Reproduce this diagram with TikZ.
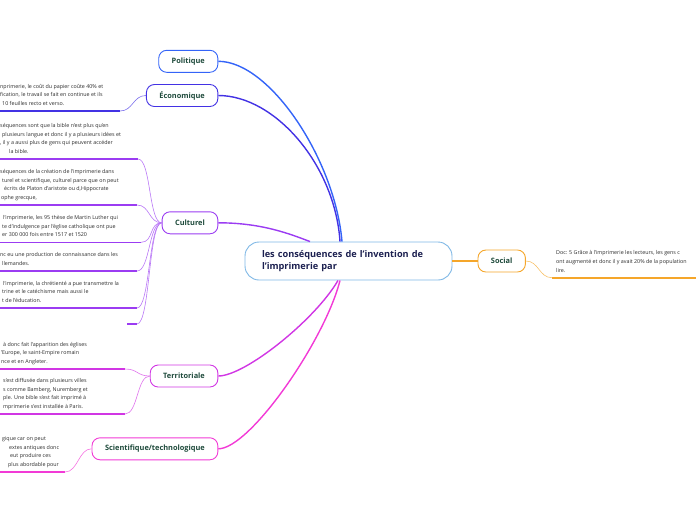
\documentclass[tikz,border=0pt]{standalone}
\usepackage{fontspec}
\setmainfont{Open Sans}

\definecolor{politc}{HTML}{3464F8}
\definecolor{ecoc}{HTML}{4332E4}
\definecolor{cultc}{HTML}{9B3CF2}
\definecolor{terrc}{HTML}{D136E4}
\definecolor{scic}{HTML}{F23AD6}
\definecolor{socc}{HTML}{F5A62A}
\definecolor{rootc}{HTML}{7FB8E6}
\definecolor{topictext}{HTML}{1F4B3C}
\definecolor{roottext}{HTML}{1C2050}
\definecolor{leaftext}{HTML}{2B2B2B}

\newcommand\leaffont{\fontsize{5.35}{8.67}\selectfont}
\newcommand\topicfont{\fontsize{7.4}{9}\selectfont\bfseries}
\newcommand\rootfont{\fontsize{9.2}{12.3}\selectfont\bfseries}

\begin{document}
\begin{tikzpicture}[x=1pt, y=-1pt,
  topic/.style = {draw, fill=white, rounded corners=8pt, line width=0.9pt,
    font=\topicfont, text=topictext, minimum height=22pt, inner xsep=13pt},
  leaf/.style = {font=\leaffont, text=leaftext, align=left,
    inner sep=0pt, anchor=base west},
  uline/.style = {line width=1.6pt},
  twig/.style = {line width=0.6pt},
  branch/.style = {line width=1.4pt}]
  \useasboundingbox (0,0) rectangle (696,520);
  \clip (0,0) rectangle (696,520);

  % root and main topics
  \node[draw=rootc, fill=white, line width=0.9pt, rounded corners=14pt,
    minimum width=207pt, minimum height=38pt, text width=173pt,
    inner xsep=17pt, align=left, font=\rootfont, text=roottext]
    (root) at (348.5,261) {les conséquences de l'invention de\\l'imprimerie par};
  \node[topic, draw=politc, anchor=east] (pol) at (218.3,61.3) {Politique};
  \node[topic, draw=ecoc, anchor=east] (eco) at (218.3,95.5) {Économique};
  \node[topic, draw=cultc, anchor=east] (cult) at (218.3,222.8) {Culturel};
  \node[topic, draw=terrc, anchor=east] (terr) at (218.3,376) {Territoriale};
  \node[topic, draw=scic, anchor=east] (sci) at (218.3,448.8) {Scientifique/technologique};
  \node[topic, draw=socc, anchor=west] (soc) at (477.5,261) {Social};

  % branches
  \draw[branch, politc] (pol.east) .. controls (270,61.3) and (335,160) .. ([xshift=-6.5]root.north);
  \draw[branch, ecoc] (eco.east) .. controls (275,95.5) and (335,165) .. ([xshift=-8.5]root.north);
  \draw[branch, cultc] (cult.east) .. controls (262,222.8) and (290,234) .. ([xshift=-38.5]root.north);
  \draw[branch, terrc] (terr.east) .. controls (245,376) and (315,320) .. ([xshift=-10.5]root.south);
  \draw[branch, scic] (sci.east) .. controls (250,448.8) and (325,340) .. ([xshift=-8.5]root.south);
  \draw[branch, socc] (root.east) -- (soc.west);

  % Economique
  \node[leaf] (eco1) at (0,105.4) {nprimerie, le coût du papier coûte 40\% et\\fication, le travail se fait en continue et ils\\\hspace*{2pt}10 feuilles recto et verso.};
  \coordinate (eco1e) at (120,111);
  \draw[uline, ecoc] (-3,111) -- (eco1e);
  \draw[twig, ecoc!70] (eco1e) .. controls +(13,0) and +(-13,0) .. (eco.west);

  % Culturel
  \node[leaf] (cul1) at (0,153.4) {séquences sont que la bible n'est plus qu'en\\\hspace*{2pt}plusieurs langue et donc il y a plusieurs idées et\\, il y a aussi plus de gens qui peuvent accéder\\\hspace*{9pt}la bible.};
  \node[leaf] (cul2) at (0,199.4) {séquences de la création de l'imprimerie dans\\\hspace*{2pt}turel et scientifique, culturel parce que on peut\\\hspace*{4pt}écrits de Platon d'aristote ou d,Hippocrate\\\hspace*{1pt}ophe grecque,};
  \node[leaf] (cul3) at (0,236.7) {\hspace*{3pt}l'imprimerie, les 95 thèse de Martin Luther qui\\\hspace*{2pt}te d'indulgence par l'église catholique ont pue\\\hspace*{2pt}er 300 000 fois entre 1517 et 1520};
  \node[leaf] (cul4) at (0,265.4) {nc eu une production de connaissance dans les\\\hspace*{2pt}llemandes.};
  \node[leaf] (cul5) at (0,302.4) {\hspace*{3pt}l'imprimerie, la chrétienté a pue transmettre la\\\hspace*{2pt}trine et le catéchisme mais aussi le\\\hspace*{2pt}t de l'éducation.};
  \coordinate (cul1e) at (138,159);
  \coordinate (cul2e) at (137,205);
  \coordinate (cul3e) at (141,242.3);
  \coordinate (cul4e) at (137,271);
  \coordinate (cul5e) at (137,308);
  \coordinate (cul6e) at (137,324);
  \foreach \e in {cul1e,cul2e,cul3e,cul4e,cul5e}
    \draw[uline, cultc] (\e) -- (\e -| -3,0);
  \draw[uline, cultc] (cul6e) -- +(-10,0);
  \foreach \e in {cul1e,cul2e,cul3e,cul4e,cul5e,cul6e}
    \draw[twig, cultc!70] (\e) .. controls +(13,0) and +(-13,0) .. (cult.west);

  % Territoriale
  \node[leaf] (ter1) at (0,363.4) {\hspace*{3pt}à donc fait l'apparition des églises\\\hspace*{1pt}'Europe, le saint-Empire romain\\\hspace*{1pt}nce et en Angleter.};
  \node[leaf] (ter2) at (0,408.4) {\hspace*{3pt}s'est diffusée dans plusieurs villes\\\hspace*{3pt}s comme Bamberg, Nuremberg et\\\hspace*{3pt}ple. Une bible s'est fait imprimé à\\\hspace*{3pt}mprimerie s'est installée à Paris.};
  \coordinate (ter1e) at (125,369);
  \coordinate (ter2e) at (125,414);
  \foreach \e in {ter1e,ter2e}
    \draw[uline, terrc] (\e) -- (\e -| -3,0);
  \foreach \e in {ter1e,ter2e}
    \draw[twig, terrc!70] (\e) .. controls +(13,0) and +(-13,0) .. (terr.west);

  % Scientifique/technologique
  \node[leaf] (sci1) at (0,466.4) {\hspace*{2pt}gique car on peut\\\hspace*{9pt}extes antiques donc\\\hspace*{10pt}eut produire ces\\\hspace*{8pt}plus abordable pour};
  \coordinate (sci1e) at (65,472);
  \draw[uline, scic] (-3,472) -- (sci1e);
  \draw[twig, scic!70] (sci1e) .. controls +(13,0) and +(-13,0) .. (sci.west);

  % Social
  \node[leaf] (soc1) at (556,272.1) {Doc: 5 Grâce à l'imprimerie les lecteurs, les gens c\\ont augmenté et donc il y avait 20\% de la population\\lire.};
  \coordinate (soc1e) at (552,277.7);
  \draw[uline, socc] (soc1e) -- (700,277.7);
  \draw[twig, socc!70] (soc.east) .. controls +(13,0) and +(-13,0) .. (soc1e);
\end{tikzpicture}
\end{document}
